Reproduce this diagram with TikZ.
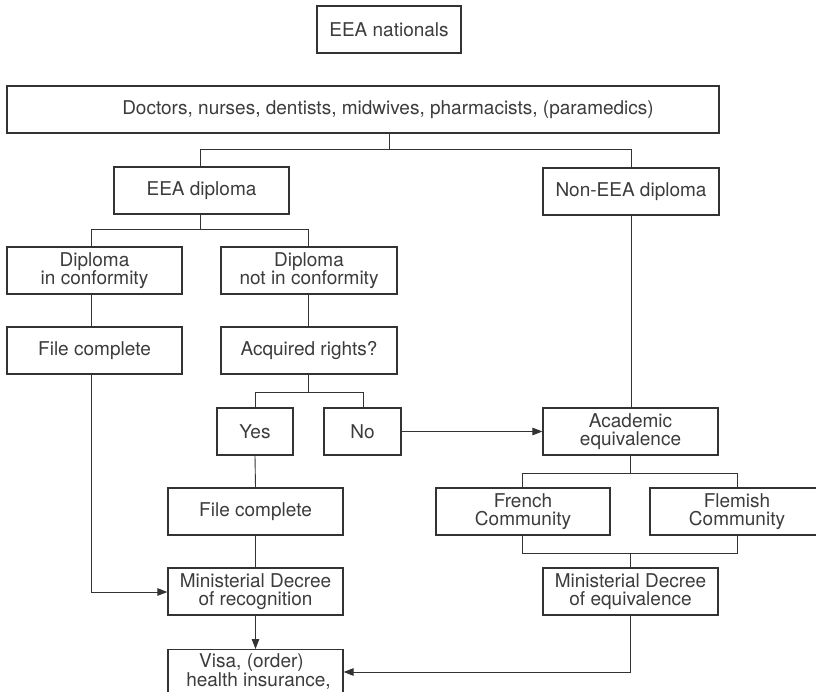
\documentclass[tikz,border=0pt]{standalone}
\usepackage{fontspec}
\setmainfont{TeX Gyre Heros}
\usetikzlibrary{arrows.meta}
\definecolor{ink}{HTML}{333333}
\definecolor{txt}{HTML}{3C3C3C}
\tikzset{
  box/.style={draw=ink, line width=1.2pt, rectangle, inner sep=0pt, minimum height=47pt,
    align=center, text=txt, font=\fontsize{19}{18.5}\selectfont},
  conn/.style={draw=ink, line width=0.9pt},
  arr/.style={conn, -{Triangle[length=10pt,width=7.5pt]}},
}
\begin{document}
\begin{tikzpicture}[x=1pt,y=-1pt]
\useasboundingbox (0,0) rectangle (816,692);
\fill[white] (0,0) rectangle (816,692);
\begin{scope}
\clip (0,0) rectangle (816,692);
\node[box, minimum width=144pt] (nat) at (389,29.5) {EEA nationals};
\node[box, minimum width=712pt] (doc) at (363,109.5) {\hspace*{50pt}Doctors, nurses, dentists, midwives, pharmacists, (paramedics)};
\node[box, minimum width=175pt] (eea) at (201.5,190.5) {EEA diploma};
\node[box, minimum width=176pt] (non) at (631,191.5) {Non-EEA diploma};
\node[box, minimum width=175pt] (dic) at (94.5,270.5) {Diploma\\in conformity};
\node[box, minimum width=176pt] (dnc) at (309,270.5) {Diploma\\not in conformity};
\node[box, minimum width=175pt] (fc1) at (94.5,350.5) {File complete};
\node[box, minimum width=176pt] (acq) at (309,350.5) {Acquired rights?};
\node[box, minimum width=76pt] (yes) at (255,431.5) {Yes};
\node[box, minimum width=77pt] (no) at (362.5,431.5) {No};
\node[box, minimum width=175pt] (ae) at (630.5,431.5) {Academic\\equivalence};
\node[box, minimum width=175pt] (fc2) at (255.5,511.5) {File complete};
\node[box, minimum width=174pt] (fr) at (523,511.5) {French\\Community};
\node[box, minimum width=174pt] (fl) at (737,511.5) {Flemish\\Community};
\node[box, minimum width=175pt] (mdr) at (255.5,591.5) {Ministerial Decree\\of recognition};
\node[box, minimum width=175pt] (mde) at (630.5,591.5) {Ministerial Decree\\of equivalence};
\node[box, minimum width=175pt, minimum height=80pt, anchor=north] (visa) at (255.5,649) {};
\node[text=txt, font=\fontsize{19}{19}\selectfont, align=center, anchor=north, inner sep=0pt] (visatxt) at ([yshift=-4pt]visa.north) {Visa, (order)\hspace*{8pt}\\\hspace*{6pt}health insurance,};
\end{scope}
% connectors
\coordinate (b1) at (389,149);
\draw[conn] (doc.south -| b1) -- (b1);
\draw[conn] (eea.north -| 200,0) -- (200,149) -- (631,149) -- (non.north -| 631,0);
\draw[conn] (eea.south -| 200,0) -- (200,229);
\draw[conn] (dic.north -| 91,0) -- (91,229) -- (308,229) -- (dnc.north -| 308,0);
\draw[conn] (dic.south -| 91,0) -- (fc1.north -| 91,0);
\draw[conn] (dnc.south -| 308,0) -- (acq.north -| 308,0);
\draw[conn] (acq.south -| 308,0) -- (308,392);
\draw[conn] (yes.north -| 255,0) -- (255,392) -- (363,392) -- (no.north -| 363,0);
\draw[arr] (no.east) -- (ae.west);
\draw[conn] (non.south -| 631,0) -- (ae.north -| 631,0);
\draw[conn] (ae.south -| 630,0) -- (630,473);
\draw[conn] (fr.north -| 522,0) -- (522,473) -- (737,473) -- (fl.north -| 737,0);
\draw[conn] (fr.south -| 522,0) -- (522,553) -- (737,553) -- (fl.south -| 737,0);
\draw[conn] (630,553) -- (mde.north -| 630,0);
\draw[arr] (mde.south -| 630,0) -- (630,672) -- (visa.east |- 0,672);
\draw[arr] (fc1.south -| 91,0) -- (91,592) -- (mdr.west |- 0,592);
\draw[conn] (yes.south) -- (fc2.north);
\draw[conn] (fc2.south) -- (mdr.north);
\draw[arr] (mdr.south) -- (visa.north);
\end{tikzpicture}
\end{document}
